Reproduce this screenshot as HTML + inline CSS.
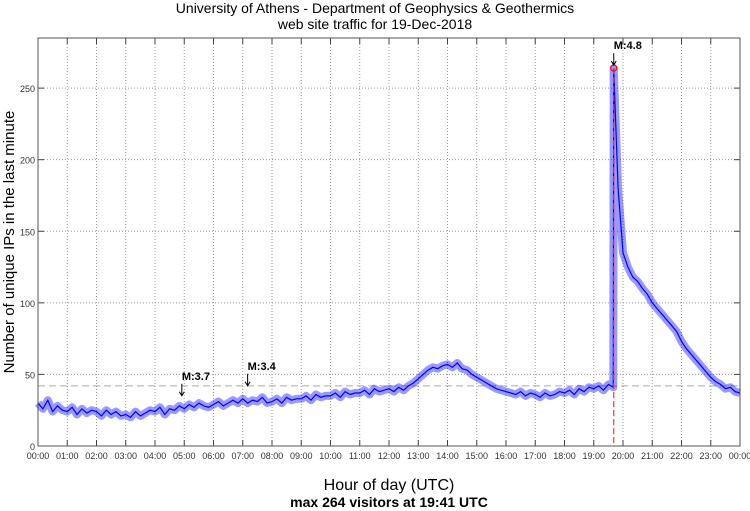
<!DOCTYPE html>
<html><head><meta charset="utf-8"><style>
html,body{margin:0;padding:0;background:#fff;}
svg{display:block;font-family:"Liberation Sans",sans-serif;}
</style></head><body>
<svg width="750" height="511" viewBox="0 0 750 511" id="chart">
<rect x="0" y="0" width="750" height="511" fill="#fff"/>
<text x="375" y="13" text-anchor="middle" font-size="14">University of Athens - Department of Geophysics &amp; Geothermics</text>
<text x="375" y="29" text-anchor="middle" font-size="14">web site traffic for 19-Dec-2018</text>
<text x="389" y="490" text-anchor="middle" font-size="16">Hour of day (UTC)</text>
<text x="389" y="507" text-anchor="middle" font-size="14" font-weight="bold">max 264 visitors at 19:41 UTC</text>
<text transform="translate(14,242) rotate(-90)" text-anchor="middle" font-size="15">Number of unique IPs in the last minute</text>
<g id="grid"></g>
<g id="series"></g>
<g id="axes"></g>
</svg>
<script>
const hourLabels=["00:00","01:00","02:00","03:00","04:00","05:00","06:00","07:00","08:00","09:00","10:00","11:00","12:00","13:00","14:00","15:00","16:00","17:00","18:00","19:00","20:00","21:00","22:00","23:00","00:00"];
const yTicks=[0,50,100,150,200,250];
const visitors10min=[
30,26,32,24,28,25, 24,27,22,26,23,25, 24,21,25,22,24,21, 22,20,24,21,23,25,
24,27,22,26,25,28, 26,29,27,30,28,27, 29,31,28,30,32,30, 33,30,32,31,34,30,
31,33,30,34,32,33, 33,35,32,36,34,35, 35,37,34,38,36,37, 37,39,36,40,38,39,
40,38,41,39,42,44, 47,50,53,55,54,56, 57,55,58,54,53,50, 48,46,44,42,40,39,
38,37,36,38,35,37, 36,34,37,35,36,38, 37,39,36,40,38,41, 40,42,39,43,41,180,
135,125,118,115,110,106, 100,96,92,88,84,80, 73,68,64,60,56,52, 48,45,43,40,41,38, 37];
const peakMinute=1181, peakValue=264;
const baselineValue=42;
const quakes=[{label:"M:3.7",minute:295,value:26},{label:"M:3.4",minute:430,value:33}];

const L=38,R=740,T=38,B=446,ymax=285;
const X=m=>L+(m/1440)*(R-L);
const Y=v=>B-(v/ymax)*(B-T);
const NS="http://www.w3.org/2000/svg";
function mk(tag,attrs,parent){const e=document.createElementNS(NS,tag);for(const k in attrs)e.setAttribute(k,attrs[k]);parent.appendChild(e);return e;}
const grid=document.getElementById('grid'),axes=document.getElementById('axes'),series=document.getElementById('series');
hourLabels.forEach((lab,i)=>{const x=X(i*60);
 if(i>0&&i<24){const g=mk('line',{x1:x,x2:x,y1:T,y2:B,stroke:'#999','stroke-dasharray':'1,2','stroke-width':1},grid);
 
 }
 const t1=mk('line',{x1:x,x2:x,y1:B,y2:B-6,stroke:'#444'},axes);
 
 
 const t2=mk('line',{x1:x,x2:x,y1:T,y2:T+6,stroke:'#444'},axes);
 
 
 const tx=mk('text',{x:x,y:B+13,'text-anchor':'middle','font-size':9,fill:'#333'},axes);tx.textContent=lab;
 
 
});
yTicks.forEach(v=>{const y=Y(v);
 if(v>0){const g=mk('line',{x1:L,x2:R,y1:y,y2:y,stroke:'#999','stroke-dasharray':'1,2'},grid);
 
 }
 const t1=mk('line',{x1:L,x2:L+6,y1:y,y2:y,stroke:'#444'},axes);
 
 
 const t2=mk('line',{x1:R,x2:R-6,y1:y,y2:y,stroke:'#444'},axes);
 
 
 const tx=mk('text',{x:L-3,y:y+4,'text-anchor':'end','font-size':9,fill:'#333'},axes);tx.textContent=v;
 
 
});
const bl=mk('line',{x1:L,x2:R,y1:Y(baselineValue),y2:Y(baselineValue),stroke:'#aaa','stroke-dasharray':'7,4'},grid);


const pts=[];
visitors10min.forEach((v,i)=>{const m=i*10;if(m>peakMinute&&pts.length&&pts[pts.length-1][0]<peakMinute)pts.push([peakMinute,peakValue]);pts.push([m,v]);});
const d=pts.map((p,i)=>(i?'L':'M')+X(p[0]).toFixed(1)+','+Y(p[1]).toFixed(1)).join('');
const band=mk('path',{d:d,fill:'none',stroke:'#0000ff','stroke-width':8,'stroke-opacity':0.4,'stroke-linejoin':'round'},series);


const line=mk('path',{d:d,fill:'none',stroke:'#0000ff','stroke-width':1.2},series);


const px=X(peakMinute),py=Y(peakValue);
const vl=mk('line',{x1:px,x2:px,y1:py,y2:B,stroke:'#ff3030','stroke-dasharray':'6,3','stroke-width':1.2},series);


const c=mk('circle',{cx:px,cy:py,r:3,fill:'none',stroke:'#f00','stroke-width':1.2},series);


function quake(label,x,yTip,name){
 const a=mk('path',{d:`M${x},${yTip-12}L${x},${yTip}M${x-2.5},${yTip-4}L${x},${yTip}L${x+2.5},${yTip-4}`,stroke:'#000',fill:'none'},series);
 
 
 const t=mk('text',{x:x,y:yTip-16,'font-size':11,'font-weight':'bold'},series);t.textContent=label;
 
 
}
quakes.forEach((q,i)=>quake(q.label,X(q.minute),Y(q.value)-13,'quake-'+i));
quake("M:4.8",px,py-3,'quake-main');
const fr=mk('rect',{x:L,y:T,width:R-L,height:B-T,fill:'none',stroke:'#555'},axes);


</script>
</body></html>
